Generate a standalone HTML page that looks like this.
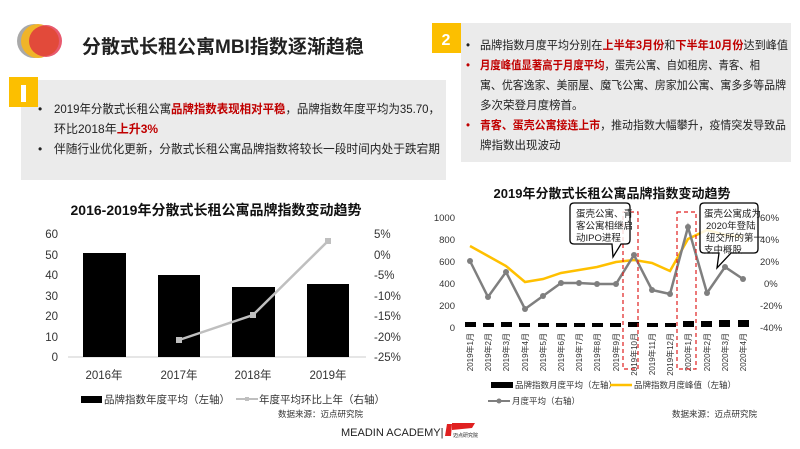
<!DOCTYPE html>
<html><head><meta charset="utf-8"><style>
body{margin:0;background:#fff;}
svg{display:block;font-family:"Liberation Sans","Noto Sans CJK SC",sans-serif;}
</style></head><body>
<svg width="800" height="449" viewBox="0 0 800 449" xmlns="http://www.w3.org/2000/svg">
<rect width="800" height="449" fill="#fff"/>
<circle cx="34" cy="41" r="17" fill="#a9a9a9"/>
<circle cx="38" cy="41" r="17" fill="#f0b429"/>
<circle cx="46" cy="41" r="16" fill="#e85a6e"/>
<circle cx="44" cy="41" r="15" fill="#e24a3a"/>
<text x="82" y="53" font-size="19" font-weight="bold" fill="#222">分散式长租公寓MBI指数逐渐趋稳</text>

<rect x="21" y="80" width="425" height="100" fill="#ebebeb"/>
<rect x="9" y="77" width="29" height="30" fill="#fcbf00"/>
<rect x="21" y="85" width="5" height="17" fill="#fff"/>
<g font-size="12" fill="#222">
<text x="38" y="113">•</text>
<text x="54" y="113" textLength="386" lengthAdjust="spacingAndGlyphs">2019年分散式长租公寓<tspan fill="#c00000" font-weight="bold">品牌指数表现相对平稳</tspan>，品牌指数年度平均为35.70，</text>
<text x="54" y="133">环比2018年<tspan fill="#c00000" font-weight="bold">上升3%</tspan></text>
<text x="38" y="153">•</text>
<text x="54" y="153" textLength="386" lengthAdjust="spacingAndGlyphs">伴随行业优化更新，分散式长租公寓品牌指数将较长一段时间内处于跌宕期</text>
</g>

<rect x="461" y="23" width="330" height="139" fill="#ebebeb"/>
<rect x="432" y="23" width="29" height="30" fill="#fcbf00"/>
<text x="446" y="45" font-size="16" font-weight="bold" fill="#fff" text-anchor="middle">2</text>
<g font-size="11.5" fill="#222">
<text x="466" y="49">•</text>
<text x="480" y="49" textLength="308" lengthAdjust="spacingAndGlyphs">品牌指数月度平均分别在<tspan fill="#c00000" font-weight="bold">上半年3月份</tspan>和<tspan fill="#c00000" font-weight="bold">下半年10月份</tspan>达到峰值</text>
<text x="466" y="69" fill="#c00000">•</text>
<text x="480" y="69" textLength="280" lengthAdjust="spacingAndGlyphs"><tspan fill="#c00000" font-weight="bold">月度峰值显著高于月度平均</tspan>，蛋壳公寓、自如租房、青客、相</text>
<text x="480" y="89" textLength="306" lengthAdjust="spacingAndGlyphs">寓、优客逸家、美丽屋、魔飞公寓、房家加公寓、寓多多等品牌</text>
<text x="480" y="109">多次荣登月度榜首。</text>
<text x="466" y="129" fill="#c00000">•</text>
<text x="480" y="129" textLength="306" lengthAdjust="spacingAndGlyphs"><tspan fill="#c00000" font-weight="bold">青客、蛋壳公寓接连上市</tspan>，推动指数大幅攀升，疫情突发导致品</text>
<text x="480" y="149">牌指数出现波动</text>
</g>

<text x="216" y="215" font-size="14" font-weight="bold" fill="#111" text-anchor="middle">2016-2019年分散式长租公寓品牌指数变动趋势</text>
<g font-size="11.5" fill="#333" text-anchor="end">
<text x="58" y="238">60</text><text x="58" y="259">50</text><text x="58" y="279">40</text>
<text x="58" y="300">30</text><text x="58" y="320">20</text><text x="58" y="341">10</text><text x="58" y="361">0</text>
</g>
<g font-size="11.5" fill="#333">
<text x="374" y="238">5%</text><text x="374" y="259">0%</text><text x="374" y="279">-5%</text>
<text x="374" y="300">-10%</text><text x="374" y="320">-15%</text><text x="374" y="341">-20%</text><text x="374" y="361">-25%</text>
</g>
<line x1="68" y1="357" x2="366" y2="357" stroke="#ccc"/>
<rect x="83" y="253" width="43" height="104" fill="#000"/>
<rect x="158" y="275" width="42" height="82" fill="#000"/>
<rect x="232" y="287" width="43" height="70" fill="#000"/>
<rect x="307" y="284" width="42" height="73" fill="#000"/>
<polyline points="179,340 253,315 328,241" fill="none" stroke="#bfbfbf" stroke-width="2.5"/>
<rect x="176" y="337" width="6" height="6" fill="#bfbfbf"/>
<rect x="250" y="312" width="6" height="6" fill="#bfbfbf"/>
<rect x="325" y="238" width="6" height="6" fill="#bfbfbf"/>
<g font-size="11.5" fill="#333" text-anchor="middle">
<text x="104" y="379">2016年</text><text x="179" y="379">2017年</text><text x="253" y="379">2018年</text><text x="328" y="379">2019年</text>
</g>
<rect x="81" y="396" width="21" height="7" fill="#000"/>
<text x="104" y="403" font-size="10.5" fill="#333">品牌指数年度平均（左轴）</text>
<line x1="236" y1="399" x2="258" y2="399" stroke="#bfbfbf" stroke-width="2"/>
<rect x="245" y="397" width="4" height="4" fill="#bfbfbf"/>
<text x="259" y="403" font-size="10.5" fill="#333">年度平均环比上年（右轴）</text>
<text x="363" y="417" font-size="8.5" fill="#333" text-anchor="end">数据来源：迈点研究院</text>
<text x="341" y="436" font-size="11" fill="#222">MEADIN ACADEMY|</text>
<polygon points="447,424 452,424 451,436 445,436" fill="#e02020"/>
<polygon points="452,423 475,423 472,428 452,430" fill="#e02020"/>
<text x="453" y="437" font-size="5" fill="#222">迈点研究院</text>

<text x="612" y="198" font-size="13" font-weight="bold" fill="#111" text-anchor="middle">2019年分散式长租公寓品牌指数变动趋势</text>
<g font-size="9.5" fill="#333" text-anchor="end">
<text x="455" y="221">1000</text><text x="455" y="243">800</text><text x="455" y="265">600</text>
<text x="455" y="287">400</text><text x="455" y="309">200</text><text x="455" y="331">0</text>
</g>
<g font-size="9.5" fill="#333">
<text x="760" y="221">60%</text><text x="760" y="243">40%</text><text x="760" y="265">20%</text>
<text x="764" y="287">0%</text><text x="760" y="309">-20%</text><text x="760" y="331">-40%</text>
</g>
<g fill="#000">
<rect x="465" y="322" width="11" height="5"/><rect x="483" y="323" width="11" height="4"/><rect x="501" y="322" width="11" height="5"/>
<rect x="519" y="323" width="11" height="4"/><rect x="538" y="323" width="11" height="4"/><rect x="556" y="323" width="11" height="4"/>
<rect x="574" y="323" width="11" height="4"/><rect x="592" y="323" width="11" height="4"/><rect x="610" y="323" width="11" height="4"/>
<rect x="628" y="322" width="11" height="5"/><rect x="647" y="323" width="11" height="4"/><rect x="665" y="323" width="11" height="4"/>
<rect x="683" y="321" width="11" height="6"/><rect x="701" y="321" width="11" height="6"/><rect x="719" y="320" width="11" height="7"/><rect x="738" y="320" width="11" height="7"/>
</g>
<polyline fill="none" stroke="#ffc000" stroke-width="2.5" points="470,246 488,256 506,266 525,282 543,279 561,273 579,270 597,267 616,262 634,260 652,263 670,271 688,239 707,230 725,235 743,237"/>
<polyline fill="none" stroke="#7f7f7f" stroke-width="2.5" points="470,261 488,297 506,272 525,309 543,296 561,283 579,283 597,284 616,284 634,255 652,290 670,294 688,227 707,293 725,267 743,279"/>
<g fill="#7f7f7f">
<circle cx="470" cy="261" r="3"/><circle cx="488" cy="297" r="3"/><circle cx="506" cy="272" r="3"/><circle cx="525" cy="309" r="3"/>
<circle cx="543" cy="296" r="3"/><circle cx="561" cy="283" r="3"/><circle cx="579" cy="283" r="3"/><circle cx="597" cy="284" r="3"/>
<circle cx="616" cy="284" r="3"/><circle cx="634" cy="255" r="3"/><circle cx="652" cy="290" r="3"/><circle cx="670" cy="294" r="3"/>
<circle cx="688" cy="227" r="3"/><circle cx="707" cy="293" r="3"/><circle cx="725" cy="267" r="3"/><circle cx="743" cy="279" r="3"/>
</g>
<g font-size="8" fill="#333" text-anchor="end">
<text transform="translate(473,333) rotate(-90)">2019年1月</text>
<text transform="translate(491,333) rotate(-90)">2019年2月</text>
<text transform="translate(509,333) rotate(-90)">2019年3月</text>
<text transform="translate(528,333) rotate(-90)">2019年4月</text>
<text transform="translate(546,333) rotate(-90)">2019年5月</text>
<text transform="translate(564,333) rotate(-90)">2019年6月</text>
<text transform="translate(582,333) rotate(-90)">2019年7月</text>
<text transform="translate(600,333) rotate(-90)">2019年8月</text>
<text transform="translate(619,333) rotate(-90)">2019年9月</text>
<text transform="translate(637,333) rotate(-90)">2019年10月</text>
<text transform="translate(655,333) rotate(-90)">2019年11月</text>
<text transform="translate(673,333) rotate(-90)">2019年12月</text>
<text transform="translate(691,333) rotate(-90)">2020年1月</text>
<text transform="translate(710,333) rotate(-90)">2020年2月</text>
<text transform="translate(728,333) rotate(-90)">2020年3月</text>
<text transform="translate(746,333) rotate(-90)">2020年4月</text>
</g>
<rect x="623" y="212" width="15" height="157" fill="none" stroke="#e02020" stroke-dasharray="4,3" stroke-width="1.2"/>
<rect x="677" y="212" width="19" height="157" fill="none" stroke="#e02020" stroke-dasharray="4,3" stroke-width="1.2"/>
<path d="M574,203 H626 Q630,203 630,207 V240 Q630,244 626,244 H621 L613,257 L612,244 H574 Q570,244 570,240 V207 Q570,203 574,203 Z" fill="#fff" fill-opacity="0.85" stroke="#000" stroke-width="1.3"/>
<g font-size="9.5" fill="#222"><text x="576" y="217">蛋壳公寓、青</text><text x="576" y="229">客公寓相继启</text><text x="576" y="241">动IPO进程</text></g>
<path d="M704,203 H754 Q758,203 758,207 V249 Q758,253 754,253 H731 L717,268 L719,253 H704 Q700,253 700,249 V207 Q700,203 704,203 Z" fill="#fff" fill-opacity="0.85" stroke="#000" stroke-width="1.3"/>
<g font-size="9.5" fill="#222"><text x="704" y="217">蛋壳公寓成为</text><text x="706" y="229">2020年登陆</text><text x="706" y="241">纽交所的第一</text><text x="704" y="253">支中概股</text></g>
<rect x="491" y="382" width="22" height="6" fill="#000"/>
<text x="515" y="388" font-size="8.5" fill="#333">品牌指数月度平均（左轴）</text>
<line x1="610" y1="385" x2="632" y2="385" stroke="#ffc000" stroke-width="2.5"/>
<text x="634" y="388" font-size="8.5" fill="#333">品牌指数月度峰值（左轴）</text>
<line x1="488" y1="401" x2="510" y2="401" stroke="#7f7f7f" stroke-width="2"/>
<circle cx="499" cy="401" r="2.5" fill="#7f7f7f"/>
<text x="512" y="404" font-size="8.5" fill="#333">月度平均（右轴）</text>
<text x="757" y="417" font-size="8.5" fill="#333" text-anchor="end">数据来源：迈点研究院</text>
</svg>
</body></html>
